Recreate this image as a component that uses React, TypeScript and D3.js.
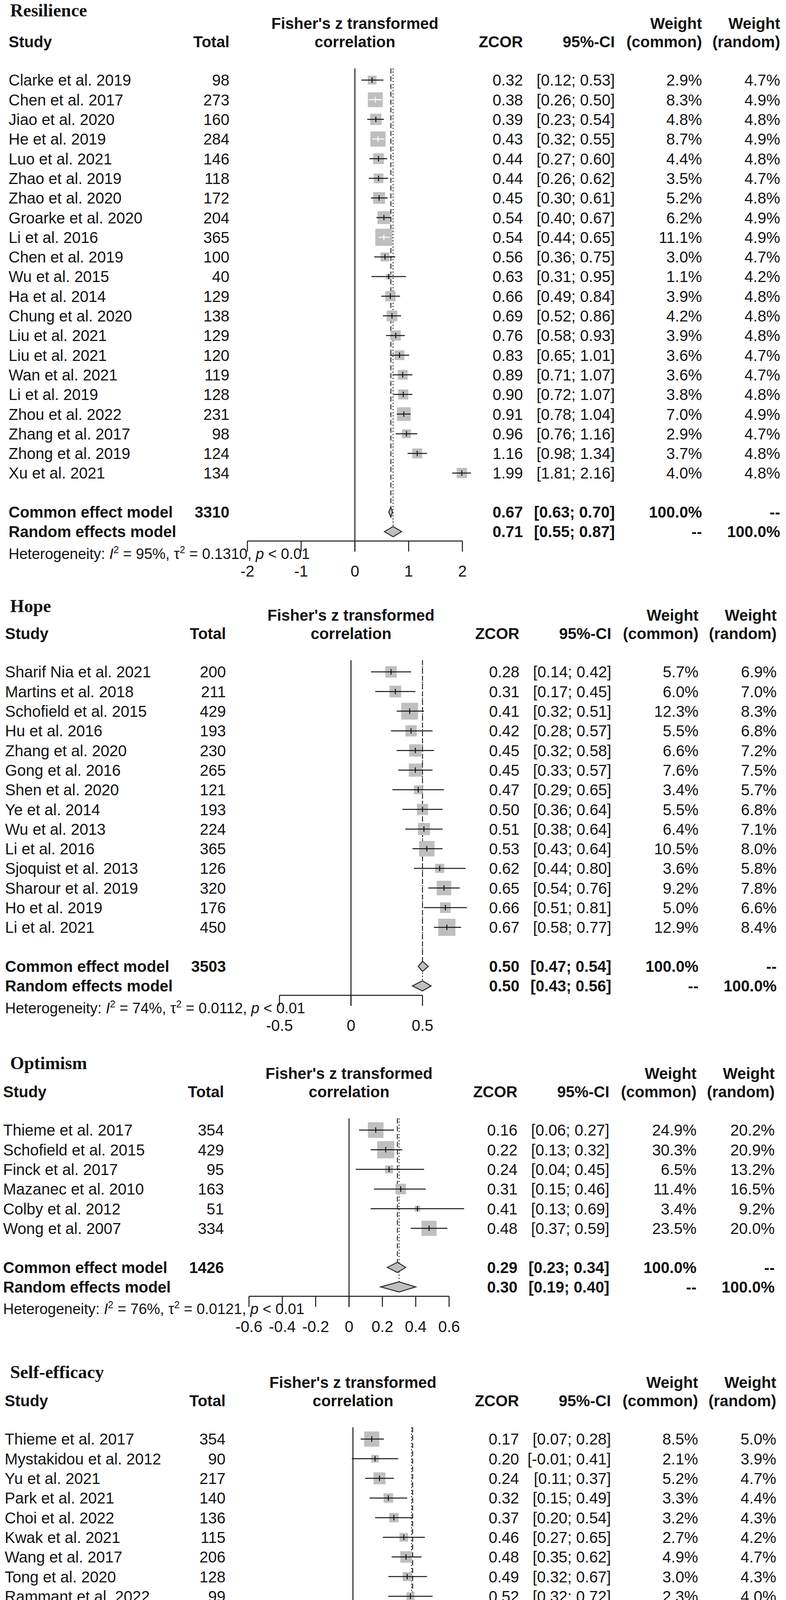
import * as d3 from 'd3'

// ---- Resilience ----
const resilienceStudies = ['Clarke et al. 2019', 'Chen et al. 2017', 'Jiao et al. 2020', 'He et al. 2019', 'Luo et al. 2021', 'Zhao et al. 2019', 'Zhao et al. 2020', 'Groarke et al. 2020', 'Li et al. 2016', 'Chen et al. 2019', 'Wu et al. 2015', 'Ha et al. 2014', 'Chung et al. 2020', 'Liu et al. 2021', 'Liu et al. 2021', 'Wan et al. 2021', 'Li et al. 2019', 'Zhou et al. 2022', 'Zhang et al. 2017', 'Zhong et al. 2019', 'Xu et al. 2021']
const resilienceTotal = [98, 273, 160, 284, 146, 118, 172, 204, 365, 100, 40, 129, 138, 129, 120, 119, 128, 231, 98, 124, 134]
const resilienceZcor = [0.32, 0.38, 0.39, 0.43, 0.44, 0.44, 0.45, 0.54, 0.54, 0.56, 0.63, 0.66, 0.69, 0.76, 0.83, 0.89, 0.9, 0.91, 0.96, 1.16, 1.99]
const resilienceLower = [0.12, 0.26, 0.23, 0.32, 0.27, 0.26, 0.3, 0.4, 0.44, 0.36, 0.31, 0.49, 0.52, 0.58, 0.65, 0.71, 0.72, 0.78, 0.76, 0.98, 1.81]
const resilienceUpper = [0.53, 0.5, 0.54, 0.55, 0.6, 0.62, 0.61, 0.67, 0.65, 0.75, 0.95, 0.84, 0.86, 0.93, 1.01, 1.07, 1.07, 1.04, 1.16, 1.34, 2.16]
const resilienceWCommon = [2.9, 8.3, 4.8, 8.7, 4.4, 3.5, 5.2, 6.2, 11.1, 3.0, 1.1, 3.9, 4.2, 3.9, 3.6, 3.6, 3.8, 7.0, 2.9, 3.7, 4.0]
const resilienceWRandom = [4.7, 4.9, 4.8, 4.9, 4.8, 4.7, 4.8, 4.9, 4.9, 4.7, 4.2, 4.8, 4.8, 4.8, 4.7, 4.7, 4.8, 4.9, 4.7, 4.8, 4.8]
const resilienceCommon = [0.67, 0.63, 0.7]
const resilienceRandom = [0.71, 0.55, 0.87]
const resilienceHet = ['95%', '0.1310', '3310']
const resilienceTicks = [-2, -1, 0, 1, 2]

// ---- Hope ----
const hopeStudies = ['Sharif Nia et al. 2021', 'Martins et al. 2018', 'Schofield et al. 2015', 'Hu et al. 2016', 'Zhang et al. 2020', 'Gong et al. 2016', 'Shen et al. 2020', 'Ye et al. 2014', 'Wu et al. 2013', 'Li et al. 2016', 'Sjoquist et al. 2013', 'Sharour et al. 2019', 'Ho et al. 2019', 'Li et al. 2021']
const hopeTotal = [200, 211, 429, 193, 230, 265, 121, 193, 224, 365, 126, 320, 176, 450]
const hopeZcor = [0.28, 0.31, 0.41, 0.42, 0.45, 0.45, 0.47, 0.5, 0.51, 0.53, 0.62, 0.65, 0.66, 0.67]
const hopeLower = [0.14, 0.17, 0.32, 0.28, 0.32, 0.33, 0.29, 0.36, 0.38, 0.43, 0.44, 0.54, 0.51, 0.58]
const hopeUpper = [0.42, 0.45, 0.51, 0.57, 0.58, 0.57, 0.65, 0.64, 0.64, 0.64, 0.8, 0.76, 0.81, 0.77]
const hopeWCommon = [5.7, 6.0, 12.3, 5.5, 6.6, 7.6, 3.4, 5.5, 6.4, 10.5, 3.6, 9.2, 5.0, 12.9]
const hopeWRandom = [6.9, 7.0, 8.3, 6.8, 7.2, 7.5, 5.7, 6.8, 7.1, 8.0, 5.8, 7.8, 6.6, 8.4]
const hopeCommon = [0.5, 0.47, 0.54]
const hopeRandom = [0.5, 0.43, 0.56]
const hopeHet = ['74%', '0.0112', '3503']
const hopeTicks = [-0.5, 0, 0.5]

// ---- Optimism ----
const optimismStudies = ['Thieme et al. 2017', 'Schofield et al. 2015', 'Finck et al. 2017', 'Mazanec et al. 2010', 'Colby et al. 2012', 'Wong et al. 2007']
const optimismTotal = [354, 429, 95, 163, 51, 334]
const optimismZcor = [0.16, 0.22, 0.24, 0.31, 0.41, 0.48]
const optimismLower = [0.06, 0.13, 0.04, 0.15, 0.13, 0.37]
const optimismUpper = [0.27, 0.32, 0.45, 0.46, 0.69, 0.59]
const optimismWCommon = [24.9, 30.3, 6.5, 11.4, 3.4, 23.5]
const optimismWRandom = [20.2, 20.9, 13.2, 16.5, 9.2, 20.0]
const optimismCommon = [0.29, 0.23, 0.34]
const optimismRandom = [0.3, 0.19, 0.4]
const optimismHet = ['76%', '0.0121', '1426']
const optimismTicks = [-0.6, -0.4, -0.2, 0, 0.2, 0.4, 0.6]

// ---- Self-efficacy ----
const efficacyStudies = ['Thieme et al. 2017', 'Mystakidou et al. 2012', 'Yu et al. 2021', 'Park et al. 2021', 'Choi et al. 2022', 'Kwak et al. 2021', 'Wang et al. 2017', 'Tong et al. 2020', 'Rammant et al. 2022', 'Shen et al. 2020', 'Johansson et al. 2018', 'Chin et al. 2021', 'Zhao et al. 2020', 'Yeung et al. 2014', 'Haas et al. 2011', 'Yuan et al. 2022', 'Zhang et al. 2015', 'Gyeong et al. 2019', 'Maeir et al. 2022', 'Chen et al. 2018', 'Chu et al. 2021', 'Omran et al. 2018', 'Zheng et al. 2021']
const efficacyTotal = [354, 90, 217, 140, 136, 115, 206, 128, 99, 121, 39, 201, 237, 238, 73, 404, 147, 204, 73, 452, 112, 341, 76]
const efficacyZcor = [0.17, 0.2, 0.24, 0.32, 0.37, 0.46, 0.48, 0.49, 0.52, 0.54, 0.55, 0.55, 0.56, 0.59, 0.6, 0.61, 0.61, 0.68, 0.68, 0.74, 0.74, 0.78, 0.82]
const efficacyLower = [0.07, -0.01, 0.11, 0.15, 0.2, 0.27, 0.35, 0.32, 0.32, 0.36, 0.22, 0.41, 0.43, 0.46, 0.37, 0.51, 0.45, 0.54, 0.44, 0.65, 0.55, 0.67, 0.59]
const efficacyUpper = [0.28, 0.41, 0.37, 0.49, 0.54, 0.65, 0.62, 0.67, 0.72, 0.72, 0.87, 0.69, 0.69, 0.72, 0.84, 0.71, 0.78, 0.82, 0.91, 0.83, 0.93, 0.88, 1.05]
const efficacyWCommon = [8.5, 2.1, 5.2, 3.3, 3.2, 2.7, 4.9, 3.0, 2.3, 2.9, 0.9, 4.8, 5.7, 5.7, 1.7, 9.7, 3.5, 4.9, 1.7, 10.9, 2.6, 8.2, 1.8]
const efficacyWRandom = [5.0, 3.9, 4.7, 4.4, 4.3, 4.2, 4.7, 4.3, 4.0, 4.2, 2.7, 4.7, 4.8, 4.8, 3.6, 5.1, 4.4, 4.7, 3.6, 5.1, 4.1, 5.0, 3.7]
const efficacyCommon = [0.54, 0.51, 0.57]
const efficacyRandom = [0.53, 0.46, 0.61]
const efficacyHet = ['85%', '0.0266', '4203']
const efficacyTicks = [-1, -0.5, 0, 0.5, 1]

// ---- Self-esteem ----
const esteemStudies = ['Tonsing et al. 2018', 'Mpharm et al. 2019', 'Koch et al. 2017', 'Chung et al. 2020', 'Perez-Tejada et al. 2021', 'Lee et al. 2001', 'Ho et al. 2019', 'McAteer et al. 2019']
const esteemTotal = [129, 953, 40, 138, 134, 150, 176, 286]
const esteemZcor = [0.13, 0.14, 0.33, 0.44, 0.51, 0.6, 0.63, 0.83]
const esteemLower = [-0.04, 0.08, 0.01, 0.27, 0.34, 0.44, 0.48, 0.71]
const esteemUpper = [0.31, 0.21, 0.65, 0.6, 0.68, 0.76, 0.78, 0.95]
const esteemWCommon = [6.4, 47.9, 1.9, 6.8, 6.6, 7.4, 8.7, 14.3]
const esteemWRandom = [12.5, 13.9, 9.6, 12.6, 12.5, 12.7, 12.9, 13.4]
const esteemCommon = [0.36, 0.32, 0.41]
const esteemRandom = [0.46, 0.28, 0.63]
const esteemHet = ['95%', '0.0572', '2006']
const esteemTicks = [-0.5, 0, 0.5]

const panels = [
  { title: 'Resilience', studies: resilienceStudies, total: resilienceTotal, z: resilienceZcor, lo: resilienceLower, hi: resilienceUpper, wc: resilienceWCommon, wr: resilienceWRandom, common: resilienceCommon, random: resilienceRandom, het: resilienceHet, ticks: resilienceTicks },
  { title: 'Hope', studies: hopeStudies, total: hopeTotal, z: hopeZcor, lo: hopeLower, hi: hopeUpper, wc: hopeWCommon, wr: hopeWRandom, common: hopeCommon, random: hopeRandom, het: hopeHet, ticks: hopeTicks },
  { title: 'Optimism', studies: optimismStudies, total: optimismTotal, z: optimismZcor, lo: optimismLower, hi: optimismUpper, wc: optimismWCommon, wr: optimismWRandom, common: optimismCommon, random: optimismRandom, het: optimismHet, ticks: optimismTicks },
  { title: 'Self-efficacy', studies: efficacyStudies, total: efficacyTotal, z: efficacyZcor, lo: efficacyLower, hi: efficacyUpper, wc: efficacyWCommon, wr: efficacyWRandom, common: efficacyCommon, random: efficacyRandom, het: efficacyHet, ticks: efficacyTicks },
  { title: 'Self-esteem', studies: esteemStudies, total: esteemTotal, z: esteemZcor, lo: esteemLower, hi: esteemUpper, wc: esteemWCommon, wr: esteemWRandom, common: esteemCommon, random: esteemRandom, het: esteemHet, ticks: esteemTicks },
]

// where each panel sits on the page (header row y, title baseline, column shift, axis pixel span)
const layouts = [
  { h2: 107, title: 42, dx: 0, range: [633, 1183] },
  { h2: 1622, title: 1567, dx: -9, range: [715, 1081] },
  { h2: 2795, title: 2737, dx: -14, range: [637, 1149] },
  { h2: 3586, title: 3528, dx: -10, range: [620, 1186] },
  { h2: 5226, title: 5168, dx: -10, range: [735, 1049] },
]

const WIDTH = 2011
const HEIGHT = 5950
const ROW = 50.3
const FS = 40
const SANS = '"Liberation Sans", Arial, sans-serif'
const SERIF = '"Liberation Serif", "Times New Roman", serif'
const INK = '#141414'
const BOX = '#bfbfbf'

const f2 = (v: number) => v.toFixed(2)
const ciText = (lo: number, hi: number) => `[${f2(lo)}; ${f2(hi)}]`
const pct = (v: number) => `${v.toFixed(1)}%`

type PanelData = (typeof panels)[number]
type Layout = (typeof layouts)[number]

function ForestPanel({ d, lay }: { d: PanelData; lay: Layout }) {
  const ticks = d.ticks
  const x = d3.scaleLinear().domain([ticks[0], ticks[ticks.length - 1]]).range(lay.range)
  const dx = lay.dx
  const col = {
    study: 22 + dx,
    total: 587 + dx,
    zcor: 1338 + dx,
    ci: 1573 + dx,
    wc: 1796 + dx,
    wr: 1996 + dx,
  }
  const mid = (lay.range[0] + lay.range[1]) / 2
  const firstY = lay.h2 + 98
  const rowY = (i: number) => firstY + i * ROW
  const n = d.studies.length
  const commonY = rowY(n - 1) + 100
  const randomY = commonY + 50
  const axisY = randomY + 24
  const top = firstY - 30
  const maxW = d3.max(d.wc) ?? 1
  const side = (w: number) => 44 * Math.sqrt(w / maxW)
  const base = (yc: number, fs = FS) => yc + fs * 0.36

  const txt = (s: string | number, xx: number, yc: number, anchor: 'start' | 'end' | 'middle', bold = false) => (
    <text x={xx} y={base(yc)} textAnchor={anchor} fontWeight={bold ? 'bold' : 'normal'}>
      {s}
    </text>
  )

  const diamond = (v: number[], yc: number) => {
    const h = 13
    const pts = [
      [x(v[1]), yc],
      [x(v[0]), yc - h],
      [x(v[2]), yc],
      [x(v[0]), yc + h],
    ]
    return <path d={`M${pts.map((p) => p.join(',')).join('L')}Z`} fill={BOX} stroke="#2a2a2a" strokeWidth={2.5} />
  }

  const hetFs = 38

  return (
    <g fontFamily={SANS} fontSize={FS} fill={INK}>
      {/* panel title */}
      <text x={26} y={lay.title} fontFamily={SERIF} fontWeight="bold" fontSize={46}>
        {d.title}
      </text>

      {/* header */}
      {txt("Fisher's z transformed", mid, lay.h2 - 47, 'middle', true)}
      {txt('Weight', col.wc, lay.h2 - 47, 'end', true)}
      {txt('Weight', col.wr, lay.h2 - 47, 'end', true)}
      {txt('Study', col.study, lay.h2, 'start', true)}
      {txt('Total', col.total, lay.h2, 'end', true)}
      {txt('correlation', mid, lay.h2, 'middle', true)}
      {txt('ZCOR', col.zcor, lay.h2, 'end', true)}
      {txt('95%-CI', col.ci, lay.h2, 'end', true)}
      {txt('(common)', col.wc, lay.h2, 'end', true)}
      {txt('(random)', col.wr, lay.h2, 'end', true)}

      {/* study rows: text */}
      {d.studies.map((s, i) => (
        <g key={`r${i}`}>
          {txt(s, col.study, rowY(i), 'start')}
          {txt(d.total[i], col.total, rowY(i), 'end')}
          {txt(f2(d.z[i]), col.zcor, rowY(i), 'end')}
          {txt(ciText(d.lo[i], d.hi[i]), col.ci, rowY(i), 'end')}
          {txt(pct(d.wc[i]), col.wc, rowY(i), 'end')}
          {txt(pct(d.wr[i]), col.wr, rowY(i), 'end')}
        </g>
      ))}

      {/* summary rows */}
      {txt('Common effect model', col.study, commonY, 'start', true)}
      {txt(d.het[2], col.total, commonY, 'end', true)}
      {txt(f2(d.common[0]), col.zcor, commonY, 'end', true)}
      {txt(ciText(d.common[1], d.common[2]), col.ci, commonY, 'end', true)}
      {txt('100.0%', col.wc, commonY, 'end', true)}
      {txt('--', col.wr, commonY, 'end', true)}
      {txt('Random effects model', col.study, randomY, 'start', true)}
      {txt(f2(d.random[0]), col.zcor, randomY, 'end', true)}
      {txt(ciText(d.random[1], d.random[2]), col.ci, randomY, 'end', true)}
      {txt('--', col.wc, randomY, 'end', true)}
      {txt('100.0%', col.wr, randomY, 'end', true)}

      {/* heterogeneity */}
      <text x={col.study} y={base(axisY + 32, hetFs)} fontSize={hetFs}>
        Heterogeneity: <tspan fontStyle="italic">I</tspan>
        <tspan dy={-15} fontSize={25}>2</tspan>
        <tspan dy={15}> = {d.het[0]}, τ</tspan>
        <tspan dy={-15} fontSize={25}>2</tspan>
        <tspan dy={15}> = {d.het[1]}, </tspan>
        <tspan fontStyle="italic">p</tspan> &lt; 0.01
      </text>

      {/* reference lines */}
      <line x1={x(0)} x2={x(0)} y1={top} y2={axisY + 27} stroke={INK} strokeWidth={2.5} />
      <line x1={x(d.common[0])} x2={x(d.common[0])} y1={top} y2={commonY - 13} stroke={INK} strokeWidth={2.2} strokeDasharray="13 7" />
      <line x1={x(d.random[0])} x2={x(d.random[0])} y1={top} y2={randomY - 13} stroke={INK} strokeWidth={2.2} strokeDasharray="3 5" />

      {/* study markers */}
      {d.studies.map((_, i) => {
        const yc = rowY(i)
        const s = side(d.wc[i])
        const cx = x(d.z[i])
        const inside = x(d.lo[i]) >= cx - s / 2 && x(d.hi[i]) <= cx + s / 2
        const lc = inside ? '#ffffff' : INK
        return (
          <g key={`m${i}`}>
            <rect x={cx - s / 2} y={yc - s / 2} width={s} height={s} fill={BOX} />
            <line x1={x(d.lo[i])} x2={x(d.hi[i])} y1={yc} y2={yc} stroke={lc} strokeWidth={2.5} />
            <line x1={cx} x2={cx} y1={yc - 7} y2={yc + 7} stroke={lc} strokeWidth={2.5} />
          </g>
        )
      })}

      {diamond(d.common, commonY)}
      {diamond(d.random, randomY)}

      {/* x axis */}
      <line x1={lay.range[0]} x2={lay.range[1]} y1={axisY} y2={axisY} stroke={INK} strokeWidth={2.5} />
      {ticks.map((t) => (
        <g key={`t${t}`}>
          <line x1={x(t)} x2={x(t)} y1={axisY} y2={axisY + 27} stroke={INK} strokeWidth={2.5} />
          <text x={x(t)} y={base(axisY + 77)} textAnchor="middle">
            {String(t)}
          </text>
        </g>
      ))}
    </g>
  )
}

export default function App() {
  return (
    <svg
      width={WIDTH}
      height={HEIGHT}
      viewBox={`0 0 ${WIDTH} ${HEIGHT}`}
      style={{ display: 'block', margin: '-8px 0 0 -8px', background: '#ffffff' }}
    >
      <rect width={WIDTH} height={HEIGHT} fill="#ffffff" />
      {panels.map((p, i) => (
        <ForestPanel key={p.title} d={p} lay={layouts[i]} />
      ))}
    </svg>
  )
}
